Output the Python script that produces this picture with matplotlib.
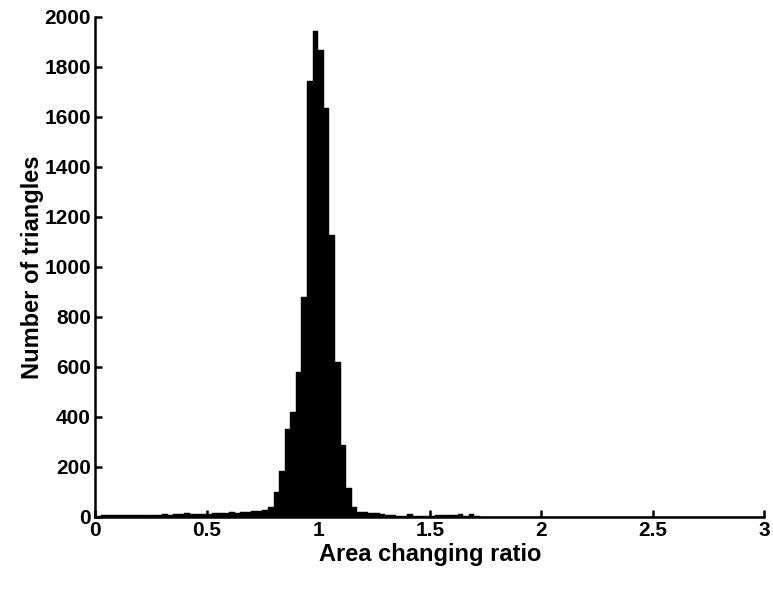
import numpy as np
import matplotlib
matplotlib.use("Agg")
import matplotlib.pyplot as plt

# Histogram of area changing ratio, bin width 0.025 over [0, 3]
bin_width = 0.025
bin_start = 0.0
counts = [
    # 0.00 - 0.20
    5, 6, 6, 6, 8, 8, 9, 8,
    # 0.20 - 0.40
    9, 8, 9, 9, 10, 9, 10, 11,
    # 0.40 - 0.60
    14, 11, 10, 12, 13, 15, 17, 16,
    # 0.60 - 0.80
    18, 15, 19, 18, 22, 24, 28, 40,
    # 0.80 - 1.00
    100, 185, 350, 420, 580, 878, 1742, 1945,
    # 1.00 - 1.20
    1866, 1636, 1126, 619, 288, 115, 40, 21,
    # 1.20 - 1.40
    19, 17, 15, 12, 8, 8, 5, 5,
    # 1.40 - 1.60
    13, 5, 5, 4, 4, 6, 6, 6,
    # 1.60 - 1.80
    6, 12, 5, 12, 2, 1, 1, 0,
    # 1.80 - 3.00
    1, 0, 0, 1, 0, 0, 0, 0, 0, 0, 0, 0, 0, 0, 0, 0,
    0, 0, 0, 0, 0, 0, 0, 0, 0, 0, 0, 0, 0, 0, 0, 0,
    0, 0, 0, 0, 0, 0, 0, 0, 0, 0, 0, 0, 0, 0, 0, 0,
]
x_ticks = [0, 0.5, 1, 1.5, 2, 2.5, 3]
x_tick_labels = ["0", "0.5", "1", "1.5", "2", "2.5", "3"]
y_ticks = [0, 200, 400, 600, 800, 1000, 1200, 1400, 1600, 1800, 2000]
x_label = "Area changing ratio"
y_label = "Number of triangles"

edges = bin_start + bin_width * np.arange(len(counts))

plt.rcParams['font.family'] = ['Liberation Sans', 'DejaVu Sans']
plt.rcParams['font.weight'] = 'bold'

fig = plt.figure(figsize=(7.73, 6.06), dpi=100)
ax = fig.add_axes([0.123, 0.147, 0.866, 0.825])

ax.bar(edges, counts, width=bin_width, align='edge', color='black',
       edgecolor='black', linewidth=0.3)

ax.set_xlim(0, 3)
ax.set_ylim(0, 2000)
ax.set_xticks(x_ticks)
ax.set_xticklabels(x_tick_labels)
ax.set_yticks(y_ticks)
ax.spines['top'].set_visible(False)
ax.spines['right'].set_visible(False)
for s in ['left', 'bottom']:
    ax.spines[s].set_linewidth(1.8)
ax.tick_params(direction='in', length=5, width=1.8, labelsize=15, pad=3)
for lab in ax.get_xticklabels() + ax.get_yticklabels():
    lab.set_fontweight('bold')
ax.set_xlabel(x_label, fontsize=17, fontweight='bold', labelpad=2)
ax.set_ylabel(y_label, fontsize=17, fontweight='bold', labelpad=0)

fig.savefig("out.png", dpi=100)
